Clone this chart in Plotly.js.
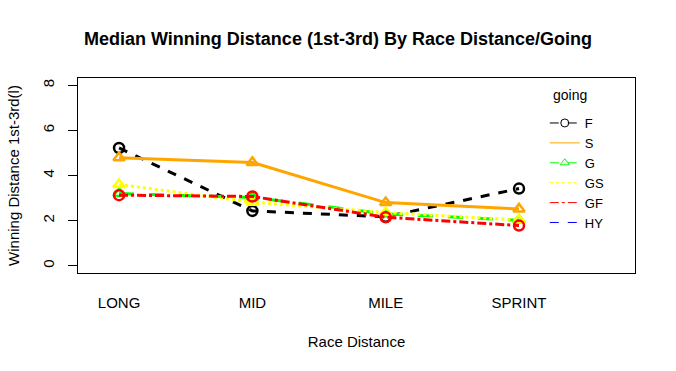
<!DOCTYPE html>
<html>
<head>
<meta charset="utf-8">
<script src="https://cdn.plot.ly/plotly-3.0.1.min.js"></script>
<style>html,body{margin:0;padding:0;background:#fff;}#chart{width:676px;height:371px;}</style>
</head>
<body>
<div id="chart"></div>
<script>
var categories = ['LONG', 'MID', 'MILE', 'SPRINT'];
var catPos = [1, 2, 3, 4];
var goingLevels = ['F', 'S', 'G', 'GS', 'GF', 'HY'];
var legendTitle = 'going';
var valF  = [5.22, 2.43, 2.17, 3.42];
var valS  = [4.79, 4.58, 2.80, 2.52];
var valG  = [3.20, 3.03, 2.30, 2.02];
var valGS = [3.60, 2.82, 2.36, 2.03];
var valGF = [3.13, 3.07, 2.15, 1.78];
var yTicks = [0, 2, 4, 6, 8];

var FONT = 'Liberation Sans, Arial, sans-serif';

function series(y, color, dash, symbol) {
  return {
    x: catPos, y: y, type: 'scatter', mode: 'lines+markers',
    line: {color: color, width: 3, dash: dash},
    marker: {symbol: symbol, size: 10, color: color, line: {color: color, width: 2.5}},
    showlegend: false, hoverinfo: 'skip'
  };
}
function legendEntry(name, color, dash, symbol) {
  var t = {
    x: [null], y: [null], type: 'scatter', name: name,
    mode: symbol ? 'lines+markers' : 'lines',
    line: {color: color, width: 1, dash: dash},
    showlegend: true
  };
  if (symbol) t.marker = {symbol: symbol, size: 8, color: color, line: {color: color, width: 1}};
  return t;
}

var traces = [
  series(valF, '#000000', 'dash', 'circle-open'),
  series(valS, '#FFA500', 'solid', 'triangle-up-open'),
  series(valG, '#00FF00', 'longdash', 'triangle-up-open'),
  series(valGS, '#FFFF00', 'dot', 'triangle-up-open'),
  series(valGF, '#FF0000', 'dashdot', 'circle-open'),
  legendEntry(goingLevels[0], '#000000', 'dash', 'circle-open'),
  legendEntry(goingLevels[1], '#FFA500', 'solid', null),
  legendEntry(goingLevels[2], '#00FF00', 'dash', 'triangle-up-open'),
  legendEntry(goingLevels[3], '#FFFF00', 'dot', null),
  legendEntry(goingLevels[4], '#FF0000', 'dashdot', null),
  legendEntry(goingLevels[5], '#0000FF', 'dash', null)
];

var layout = {
  width: 676, height: 371,
  margin: {l: 78, r: 41, t: 78, b: 98},
  paper_bgcolor: '#ffffff', plot_bgcolor: '#ffffff',
  font: {family: FONT, size: 15, color: '#000000'},
  title: {
    text: '<b>Median Winning Distance (1st-3rd) By Race Distance/Going</b>',
    font: {family: FONT, size: 18, color: '#000000'},
    x: 0.5, xanchor: 'center', xref: 'container',
    y: 1 - 39 / 371, yanchor: 'middle', yref: 'container'
  },
  xaxis: {
    range: [0.692, 4.87], tickmode: 'array', tickvals: catPos, ticktext: categories,
    showgrid: false, zeroline: false, ticks: '', showline: true, mirror: true,
    linecolor: '#000000', linewidth: 1, ticklabelstandoff: 16,
    tickfont: {family: FONT, size: 15, color: '#000000'},
    title: {text: 'Race Distance', font: {family: FONT, size: 15, color: '#000000'}, standoff: 26}
  },
  yaxis: {
    range: [-0.32, 8.32], tickmode: 'array', tickvals: yTicks,
    showgrid: false, zeroline: false, ticks: 'outside', ticklen: 9, tickcolor: '#000000',
    showline: true, mirror: true, linecolor: '#000000', linewidth: 1,
    tickangle: -90, ticklabelstandoff: 8,
    tickfont: {family: FONT, size: 15, color: '#000000'},
    title: {text: 'Winning Distance 1st-3rd(l)', font: {family: FONT, size: 15, color: '#000000'}, standoff: 16}
  },
  legend: {
    x: 0.838, xanchor: 'left', y: 0.846, yanchor: 'top',
    bgcolor: 'rgba(0,0,0,0)', borderwidth: 0,
    font: {family: FONT, size: 13, color: '#000000'},
    tracegroupgap: 0
  },
  annotations: [{
    text: legendTitle, xref: 'paper', yref: 'paper',
    x: (551 - 78) / 557, xanchor: 'left', y: (273 - 95) / 195, yanchor: 'middle',
    showarrow: false, font: {family: FONT, size: 14, color: '#000000'}
  }]
};

Plotly.newPlot('chart', traces, layout, {staticPlot: true, displayModeBar: false});
</script>
</body>
</html>
